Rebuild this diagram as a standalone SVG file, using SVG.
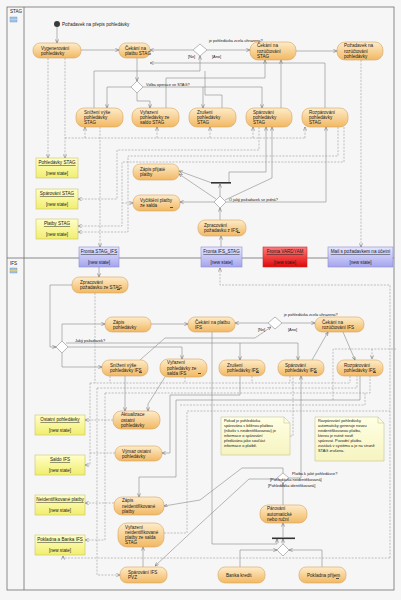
<svg xmlns="http://www.w3.org/2000/svg" width="401" height="600" viewBox="0 0 401 600">
<defs>
<linearGradient id="og" x1="0" y1="0" x2="0" y2="1"><stop offset="0" stop-color="#fdecc9"/><stop offset="1" stop-color="#f2b863"/></linearGradient>
<linearGradient id="yg" x1="0" y1="0" x2="0" y2="1"><stop offset="0" stop-color="#ffffc8"/><stop offset="1" stop-color="#f1ee6e"/></linearGradient>
<linearGradient id="bg" x1="0" y1="0" x2="0" y2="1"><stop offset="0" stop-color="#e6e6ff"/><stop offset="1" stop-color="#a4a4ee"/></linearGradient>
<linearGradient id="rg" x1="0" y1="0" x2="0" y2="1"><stop offset="0" stop-color="#ff7a7a"/><stop offset="1" stop-color="#e00808"/></linearGradient>
<linearGradient id="ng" x1="0" y1="0" x2="0" y2="1"><stop offset="0" stop-color="#ffffe4"/><stop offset="1" stop-color="#f6f4c0"/></linearGradient>
<marker id="a" viewBox="0 0 6 6" refX="6" refY="3" markerWidth="3.6" markerHeight="3.6" markerUnits="userSpaceOnUse" orient="auto"><path d="M0,0.4 L6,3 L0,5.6" fill="none" stroke="#666" stroke-width="0.9"/></marker>
</defs>
<style>
.ln{fill:none;stroke:#8a8a8a;stroke-width:.6}
.ds{fill:none;stroke:#9a9a9a;stroke-width:.6;stroke-dasharray:2 1.3}
.act{fill:url(#og);stroke:#d6a35e;stroke-width:.6}
.obj{fill:url(#yg);stroke:#c9c46a;stroke-width:.6}
.qb{fill:url(#bg);stroke:#8c8cd0;stroke-width:.6}
.qr{fill:url(#rg);stroke:#c03030;stroke-width:.6}
.dm{fill:#fff;stroke:#8a8a8a;stroke-width:.6}
.nt{fill:url(#ng);stroke:#c8c890;stroke-width:.6}
.fr{fill:none;stroke:#707070;stroke-width:.8}
.rk{fill:#333}
text{font-family:"Liberation Sans",Arial,sans-serif;fill:#1a1a1a}
.t{font-size:4.6px}
.s{font-size:3.9px}
.c{text-anchor:middle}
.u{text-decoration:underline}
</style>
<rect width="401" height="600" fill="#f6f6f6"/>
<g id="frame">
<rect x="7" y="7" width="387" height="583" fill="#fdfdfd" class="fr"/>
<line x1="24" y1="7" x2="24" y2="590" class="fr"/>
<line x1="7" y1="258" x2="394" y2="258" class="fr"/>
<text x="10" y="13" class="t">STAG</text>
<rect x="10" y="17" width="7" height="5" fill="#9fc3e8" stroke="#6a8fb8" stroke-width=".4"/>
<line x1="10" y1="19.5" x2="17" y2="19.5" stroke="#e6d270" stroke-width=".8"/>
<text x="10" y="265" class="t">IFS</text>
<rect x="10" y="268" width="7" height="5" fill="#9fc3e8" stroke="#6a8fb8" stroke-width=".4"/>
<line x1="10" y1="270.5" x2="17" y2="270.5" stroke="#e6d270" stroke-width=".8"/>
</g>
<g id="labels">
<text x="209" y="41.5" class="s">je pohledávka zcela uhrazena?</text>
<text x="284" y="315.8" class="s">je pohledávka zcela uhrazena?</text>
</g>
<g id="connectors">
<path class="ln" d="M57,27 V43" marker-end="url(#a)"/>
<path class="ln" d="M81,50 H119" marker-end="url(#a)"/>
<path class="ln" d="M137,58 V81" marker-end="url(#a)"/>
<path class="ln" d="M131,87 H107 V108" marker-end="url(#a)"/>
<path class="ln" d="M137,93 V101 H150 V108" marker-end="url(#a)"/>
<path class="ln" d="M143,87 H262 V108" marker-end="url(#a)"/>
<path class="ln" d="M203,87 V108" marker-end="url(#a)"/>
<path class="ln" d="M193,50 H150" marker-end="url(#a)"/>
<path class="ln" d="M207,50 H250" marker-end="url(#a)"/>
<path class="ln" d="M296,51 H337" marker-end="url(#a)"/>
<path class="ln" d="M94,108 V71 H200 V56" marker-end="url(#a)"/>
<path class="ln" d="M222,108 V95 H205 V71"/>
<path class="ln" d="M281,108 V60" marker-end="url(#a)"/>
<path class="ln" d="M166,108 V78 H265 V60" marker-end="url(#a)"/>
<path class="ln" d="M325,108 V63 H150" marker-end="url(#a)"/>
<path class="ln" d="M216,199 L179,174" marker-end="url(#a)"/>
<path class="ln" d="M212,183 L179,171" marker-end="url(#a)"/>
<path class="ln" d="M214,202 H180" marker-end="url(#a)"/>
<path class="ln" d="M220,196 V184" marker-end="url(#a)"/>
<path class="ln" d="M229,182 V172 H266 V127" marker-end="url(#a)"/>
<path class="ln" d="M225,200 L272,178 V127" marker-end="url(#a)"/>
<path class="ln" d="M226,202 H326 V127" marker-end="url(#a)"/>
<path class="ln" d="M220,220 V208" marker-end="url(#a)"/>
<path class="ln" d="M221,247 V236" marker-end="url(#a)"/>
<path class="ln" d="M99,267 V277" marker-end="url(#a)"/>
<path class="ln" d="M72,285 H50 V347 H56" marker-end="url(#a)"/>
<path class="ln" d="M62,341 V324 H105" marker-end="url(#a)"/>
<path class="ln" d="M62,353 V367 H102" marker-end="url(#a)"/>
<path class="ln" d="M68,347 H182 V359" marker-end="url(#a)"/>
<path class="ln" d="M66,343 H298 V360" marker-end="url(#a)"/>
<path class="ln" d="M240,343 V360" marker-end="url(#a)"/>
<path class="ln" d="M151,324 H188" marker-end="url(#a)"/>
<path class="ln" d="M268,323 H235" marker-end="url(#a)"/>
<path class="ln" d="M282,323 H315" marker-end="url(#a)"/>
<path class="ln" d="M140,360 L165,338 H255 L271,327" marker-end="url(#a)"/>
<path class="ln" d="M312,360 L328,332" marker-end="url(#a)"/>
<path class="ln" d="M343,332 L355,360" marker-end="url(#a)"/>
<path class="ln" d="M125,376 V411" marker-end="url(#a)"/>
<path class="ln" d="M165,377 L148,404 V411" marker-end="url(#a)"/>
<path class="ln" d="M240,376 V395 H170 V453 H162" marker-end="url(#a)"/>
<path class="ln" d="M360,376 V400 H176 V477 H139 V497" marker-end="url(#a)"/>
<path class="ln" d="M212,332 V544 H277 V539" marker-end="url(#a)"/>
<path class="ln" d="M283,544 V539" marker-end="url(#a)"/>
<path class="ln" d="M240,567 V550 H277" marker-end="url(#a)"/>
<path class="ln" d="M322,567 V550 H289" marker-end="url(#a)"/>
<path class="ln" d="M283,537 V523" marker-end="url(#a)"/>
<path class="ln" d="M283,505 V483" marker-end="url(#a)"/>
<path class="ln" d="M283,473 V468 H242 L200,500 L164,506" marker-end="url(#a)"/>
<path class="ln" d="M277,479 H249 L200,524 L155,566" marker-end="url(#a)"/>
<path class="ln" d="M289,478 H301 V376" marker-end="url(#a)"/>
<path class="ln" d="M143,567 V547" marker-end="url(#a)"/>
<path class="ds" d="M48,58 V158" marker-end="url(#a)"/>
<path class="ds" d="M65,58 V158" marker-end="url(#a)"/>
<path class="ds" d="M65,138 H305"/>
<path class="ds" d="M85,138 V127" marker-end="url(#a)"/>
<path class="ds" d="M157,138 V127" marker-end="url(#a)"/>
<path class="ds" d="M210,138 V127" marker-end="url(#a)"/>
<path class="ds" d="M253,138 V127" marker-end="url(#a)"/>
<path class="ds" d="M305,138 V127" marker-end="url(#a)"/>
<path class="ds" d="M100,127 V247" marker-end="url(#a)"/>
<path class="ds" d="M259,127 V150 H117 V199 H78" marker-end="url(#a)"/>
<path class="ds" d="M338,127 V156 H128 V232 H78" marker-end="url(#a)"/>
<path class="ds" d="M344,127 V162 H122 V226 H78" marker-end="url(#a)"/>
<path class="ds" d="M122,203 H133" marker-end="url(#a)"/>
<path class="ds" d="M361,60 V247" marker-end="url(#a)"/>
<path class="ds" d="M390,558 V285 H220 V268" marker-end="url(#a)"/>
<path class="ds" d="M390,558 H63 V556" marker-end="url(#a)"/>
<path class="ds" d="M95,293 V383"/>
<path class="ds" d="M90,383 H350"/>
<path class="ds" d="M110,376 V383"/>
<path class="ds" d="M185,377 V383"/>
<path class="ds" d="M252,376 V383"/>
<path class="ds" d="M290,376 V383"/>
<path class="ds" d="M350,376 V383"/>
<path class="ds" d="M90,383 V465 H85" marker-end="url(#a)"/>
<path class="ds" d="M97,388 H357 V376"/>
<path class="ds" d="M97,388 V575 H120" marker-end="url(#a)"/>
<path class="ds" d="M105,393 H370 V376"/>
<path class="ds" d="M105,393 V540 H85" marker-end="url(#a)"/>
<path class="ds" d="M113,420 H85" marker-end="url(#a)"/>
<path class="ds" d="M115,453 H90"/>
<path class="ds" d="M114,503 H85" marker-end="url(#a)"/>
<path class="ds" d="M164,533 H187 V411 H390"/>
<path class="ds" d="M180,405 H365 V393"/>
<path class="ds" d="M333,400 V349 H396"/>
<path class="ds" d="M372,349 V359" marker-end="url(#a)"/>
<path class="ds" d="M290,436 H293 V376"/>
</g>
<g id="start"><circle cx="57" cy="24" r="3" fill="#3a3a3a"/><text x="62" y="25.5" class="t">Požadavek na přepis pohledávky</text></g>
<g id="d1"><polygon class="dm" points="193,50 200,44 207,50 200,56"/><text x="188" y="57.5" class="s">[Ne]</text><text x="212" y="57.5" class="s">[Ano]</text></g>
<g id="d2"><polygon class="dm" points="131,87 137,81 143,87 137,93"/><text x="146" y="86" class="s">Volba operace ve STAG?</text></g>
<g id="d3"><polygon class="dm" points="214,202 220,196 226,202 220,208"/><text x="229" y="201" class="s">O jaký požadavek se jedná?</text></g>
<g id="bar1"><rect x="211" y="182" width="20" height="1.6" fill="#333"/></g>
<g id="a1"><rect class="act" x="33" y="43" width="48" height="15" rx="7"/><text x="41" y="49.5" class="t">Vygenerování</text><text x="41" y="54.7" class="t">pohledávky</text></g>
<g id="a2"><rect class="act" x="119" y="43" width="31" height="15" rx="7"/><text x="125" y="49.5" class="t">Čekání na</text><text x="125" y="54.7" class="t">platbu STAG</text></g>
<g id="a3"><rect class="act" x="250" y="42" width="46" height="18" rx="8"/><text x="257" y="47.4" class="t">Čekání na</text><text x="257" y="52.6" class="t">rozúčtování</text><text x="257" y="57.8" class="t">STAG</text></g>
<g id="a4"><rect class="act" x="337" y="42" width="46" height="18" rx="8"/><text x="344" y="47.4" class="t">Požadavek na</text><text x="344" y="52.6" class="t">rozúčtování</text><text x="344" y="57.8" class="t">pohledávky</text></g>
<g id="a5"><rect class="act" x="76" y="108" width="47" height="19" rx="8"/><text x="84" y="113.9" class="t">Snížení výše</text><text x="84" y="119.1" class="t">pohledávky</text><text x="84" y="124.3" class="t">STAG</text></g>
<g id="a6"><rect class="act" x="132" y="108" width="47" height="19" rx="8"/><text x="140" y="113.9" class="t">Vyřazení</text><text x="140" y="119.1" class="t">pohledávky ze</text><text x="140" y="124.3" class="t">saldo STAG</text></g>
<g id="a7"><rect class="act" x="189" y="108" width="47" height="19" rx="8"/><text x="197" y="113.9" class="t">Zrušení</text><text x="197" y="119.1" class="t">pohledávky</text><text x="197" y="124.3" class="t">STAG</text></g>
<g id="a8"><rect class="act" x="246" y="108" width="46" height="19" rx="8"/><text x="253" y="113.9" class="t">Spárování</text><text x="253" y="119.1" class="t">pohledávky</text><text x="253" y="124.3" class="t">STAG</text></g>
<g id="a9"><rect class="act" x="302" y="108" width="46" height="19" rx="8"/><text x="309" y="113.9" class="t">Rozpárování</text><text x="309" y="119.1" class="t">pohledávky</text><text x="309" y="124.3" class="t">STAG</text></g>
<g id="a10"><rect class="act" x="133" y="164" width="46" height="16" rx="7"/><text x="140" y="171" class="t">Zápis přijaté</text><text x="140" y="176.2" class="t">platby</text></g>
<g id="a11"><rect class="act" x="133" y="195" width="47" height="16" rx="7"/><text x="140" y="202" class="t">Vyčištění platby</text><text x="140" y="207.2" class="t">ze salda</text><rect class="rk" x="170" y="207" width="3" height=".8"/></g>
<g id="a12"><rect class="act" x="198" y="220" width="48" height="16" rx="7"/><text x="204" y="227" class="t">Zpracování</text><text x="204" y="232.2" class="t">požadavku z IFS</text><rect class="rk" x="237" y="232" width="3" height=".8"/></g>
<g id="o1"><rect class="obj" x="36" y="158" width="42" height="20"/><text x="57" y="164" class="t c u">Pohledávky STAG</text><text x="57" y="175" class="t c">[new state]</text></g>
<g id="o2"><rect class="obj" x="36" y="189" width="42" height="20"/><text x="57" y="195" class="t c u">Spárování STAG</text><text x="57" y="206" class="t c">[new state]</text></g>
<g id="o3"><rect class="obj" x="36" y="219" width="42" height="20"/><text x="57" y="225" class="t c u">Platby STAG</text><text x="57" y="236" class="t c">[new state]</text></g>
<g id="q1"><rect class="qb" x="79" y="247" width="40" height="20"/><text x="99" y="253" class="t c u">Fronta STAG_IFS</text><text x="99" y="264" class="t c">[new state]</text></g>
<g id="q2"><rect class="qb" x="201" y="247" width="41" height="20"/><text x="221.5" y="253" class="t c u">Fronta IFS_STAG</text><text x="221.5" y="264" class="t c">[new state]</text></g>
<g id="q3"><rect class="qr" x="263" y="247" width="44" height="20"/><text x="285" y="253" class="t c u">Fronta VARDYAM</text><text x="285" y="264" class="t c">[new state]</text></g>
<g id="q4"><rect class="qb" x="328" y="247" width="65" height="20"/><text x="360.5" y="253" class="t c u">Mail s požadavkem na účetní</text><text x="360.5" y="264" class="t c">[new state]</text></g>
<g id="d4"><polygon class="dm" points="56,347 62,341 68,347 62,353"/><text x="75" y="342" class="s">Jaký požadavek?</text></g>
<g id="d5"><polygon class="dm" points="268,323 275,317 282,323 275,329"/><text x="258" y="331" class="s">[Ne]</text><text x="288" y="331" class="s">[Ano]</text></g>
<g id="b1"><rect class="act" x="72" y="277" width="56" height="16" rx="7"/><text x="80" y="284" class="t">Zpracování</text><text x="80" y="289.2" class="t">požadavku ze STAG</text><rect class="rk" x="117" y="289" width="3" height=".8"/></g>
<g id="b2"><rect class="act" x="105" y="317" width="46" height="15" rx="7"/><text x="113" y="323.5" class="t">Zápis</text><text x="113" y="328.7" class="t">pohledávky</text></g>
<g id="b3"><rect class="act" x="188" y="317" width="47" height="15" rx="7"/><text x="195" y="323.5" class="t">Čekání na platbu</text><text x="195" y="328.7" class="t">IFS</text></g>
<g id="b4"><rect class="act" x="315" y="317" width="49" height="15" rx="7"/><text x="322" y="323.5" class="t">Čekání na</text><text x="322" y="328.7" class="t">rozúčtování IFS</text></g>
<g id="b5"><rect class="act" x="102" y="360" width="46" height="16" rx="7"/><text x="110" y="367" class="t">Snížení výše</text><text x="110" y="372.2" class="t">pohledávky IFS</text><rect class="rk" x="139" y="372" width="3" height=".8"/></g>
<g id="b6"><rect class="act" x="160" y="359" width="47" height="18" rx="8"/><text x="167" y="364.4" class="t">Vyřazení</text><text x="167" y="369.6" class="t">pohledávky ze</text><text x="167" y="374.8" class="t">salda IFS</text><rect class="rk" x="198" y="373" width="3" height=".8"/></g>
<g id="b7"><rect class="act" x="219" y="360" width="46" height="16" rx="7"/><text x="227" y="367" class="t">Zrušení</text><text x="227" y="372.2" class="t">pohledávky IFS</text><rect class="rk" x="256" y="372" width="3" height=".8"/></g>
<g id="b8"><rect class="act" x="278" y="360" width="46" height="16" rx="7"/><text x="285" y="367" class="t">Spárování</text><text x="285" y="372.2" class="t">pohledávky IFS</text><rect class="rk" x="314" y="372" width="3" height=".8"/></g>
<g id="b9"><rect class="act" x="337" y="360" width="46" height="16" rx="7"/><text x="344" y="367" class="t">Rozpárování</text><text x="344" y="372.2" class="t">pohledávky IFS</text><rect class="rk" x="373" y="372" width="3" height=".8"/></g>
<g id="b10"><rect class="act" x="113" y="411" width="47" height="18" rx="8"/><text x="121" y="416.4" class="t">Aktualizace</text><text x="121" y="421.6" class="t">ostatní</text><text x="121" y="426.8" class="t">pohledávky</text></g>
<g id="b11"><rect class="act" x="115" y="446" width="47" height="15" rx="7"/><text x="122" y="452.5" class="t">Výmaz ostatní</text><text x="122" y="457.7" class="t">pohledávky</text></g>
<g id="b12"><rect class="act" x="114" y="497" width="50" height="18" rx="8"/><text x="122" y="502.4" class="t">Zápis</text><text x="122" y="507.6" class="t">neidentifikované</text><text x="122" y="512.8" class="t">platby</text></g>
<g id="b13"><rect class="act" x="118" y="523" width="46" height="24" rx="9"/><text x="125" y="528.8" class="t">Vyřazení</text><text x="125" y="534" class="t">neidentifikované</text><text x="125" y="539.2" class="t">platby ze salda</text><text x="125" y="544.4" class="t">STAG</text></g>
<g id="b14"><rect class="act" x="120" y="567" width="47" height="16" rx="7"/><text x="128" y="574" class="t">Spárování IFS</text><text x="128" y="579.2" class="t">PVZ</text></g>
<g id="p1"><rect class="obj" x="35" y="415" width="50" height="20"/><text x="60" y="421" class="t c u">Ostatní pohledávky</text><text x="60" y="432" class="t c">[new state]</text></g>
<g id="p2"><rect class="obj" x="35" y="455" width="50" height="20"/><text x="60" y="461" class="t c u">Saldo IFS</text><text x="60" y="472" class="t c">[new state]</text></g>
<g id="p3"><rect class="obj" x="35" y="495" width="50" height="20"/><text x="60" y="501" class="t c u">Neidentifikované platby</text><text x="60" y="512" class="t c">[new state]</text></g>
<g id="p4"><rect class="obj" x="35" y="535" width="50" height="20"/><text x="60" y="541" class="t c u">Pokladna a Banka IFS</text><text x="60" y="552" class="t c">[new state]</text></g>
<g id="n1"><path class="nt" d="M221,417 H284 L290,423 V455 H221 Z"/><path d="M284,417 V423 H290" fill="none" stroke="#c8c890" stroke-width=".6"/><text class="s" x="224"><tspan x="224" y="422">Pokud je pohledávka</tspan><tspan x="224" y="427">spárována s běžnou platbou</tspan><tspan x="224" y="432">(nikoliv s neidentifikovanou) je</tspan><tspan x="224" y="437">informace o spárování</tspan><tspan x="224" y="442">předávána jako součást</tspan><tspan x="224" y="447">informace o platbě.</tspan></text></g>
<g id="n2"><path class="nt" d="M315,417 H378 L384,423 V461 H315 Z"/><path d="M378,417 V423 H384" fill="none" stroke="#c8c890" stroke-width=".6"/><text class="s" x="318"><tspan x="318" y="422">Rozpárování pohledávky</tspan><tspan x="318" y="427">automaticky generuje novou</tspan><tspan x="318" y="432">neidentifikovanou platbu,</tspan><tspan x="318" y="437">kterou je nutné nově</tspan><tspan x="318" y="442">spárovat. Původní platba</tspan><tspan x="318" y="447">zůstává v systému a je na straně</tspan><tspan x="318" y="452">STAG zrušena.</tspan></text></g>
<g id="d6"><polygon class="dm" points="277,478 283,473 289,478 283,483"/><text x="292" y="475" class="s">Platba k jaké pohledávce?</text><text x="270" y="481" class="s">[Pohledávka neidentifikovaná]</text><text x="268" y="487" class="s">[Pohledávka identifikovaná]</text></g>
<g id="b15"><rect class="act" x="260" y="505" width="47" height="18" rx="8"/><text x="267" y="510.4" class="t">Párování</text><text x="267" y="515.6" class="t">automatické</text><text x="267" y="520.8" class="t">nebo ruční</text></g>
<g id="bar2"><rect x="272" y="537.5" width="23" height="1.6" fill="#333"/></g>
<g id="d7"><polygon class="dm" points="277,550 283,544 289,550 283,556"/></g>
<g id="b16"><rect class="act" x="218" y="567" width="47" height="16" rx="7"/><text x="226" y="576.6" class="t">Banka kredit</text></g>
<g id="b17"><rect class="act" x="299" y="567" width="47" height="16" rx="7"/><text x="307" y="576.6" class="t">Pokladna příjem</text><rect class="rk" x="336" y="578" width="3" height=".8"/></g>
</svg>
